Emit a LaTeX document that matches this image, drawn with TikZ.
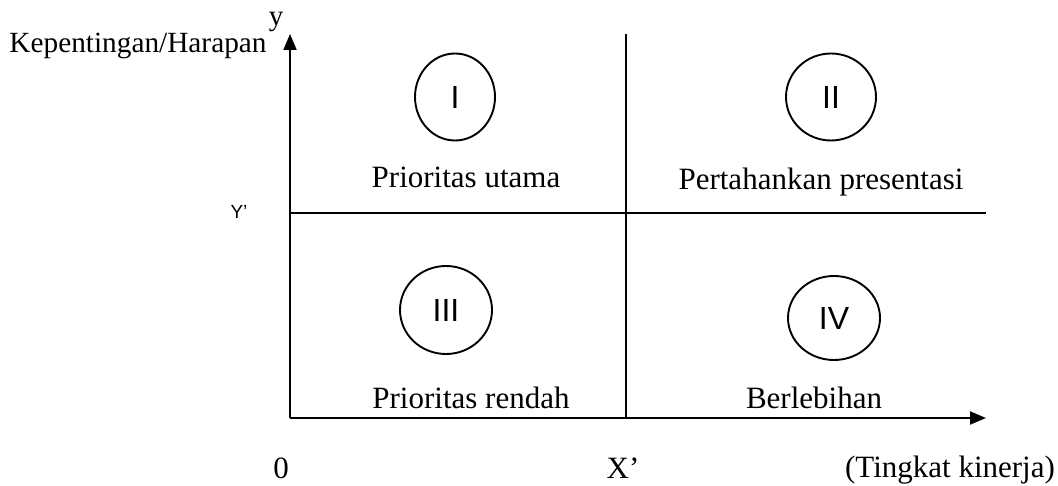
\documentclass[tikz,border=0pt]{standalone}
\usepackage{fontspec}
\setmainfont{Liberation Serif}
\newfontfamily\arialf{Liberation Sans}
\usetikzlibrary{arrows.meta,shapes.geometric}
\tikzset{
  axisline/.style={line width=2pt, -{Triangle[length=16pt,width=13pt]}},
  gridline/.style={line width=2pt},
  quad/.style={draw, ellipse, line width=1.9pt, inner sep=0pt, font=\arialf\fontsize{32}{38}\selectfont},
  lbl/.style={inner sep=0pt, anchor=base, font=\fontsize{31}{36}\selectfont},
}
\begin{document}
\begin{tikzpicture}[x=1pt,y=-1pt]
\useasboundingbox (0,0) rectangle (1058,486);
\coordinate (O) at (290,418);
\coordinate (Ytip) at (290,34);
\coordinate (Xtip) at (986,418);
\coordinate (Vtop) at (626,34);
\coordinate (Vbot) at (626,418);
\coordinate (Hl) at (290,213);
\coordinate (Hr) at (986,213);
\draw[gridline] (Vtop) -- (Vbot);
\draw[gridline] (Hl) -- (Hr);
\draw[axisline] (O) -- (Ytip);
\draw[axisline] (O) -- (Xtip);
\node[quad, minimum width=80pt, minimum height=87pt] (q1) at (455,97) {I};
\node[quad, minimum width=90pt, minimum height=87pt] (q2) at (831,97) {II};
\node[quad, minimum width=92pt, minimum height=88pt] (q3) at (446,310) {III};
\node[quad, minimum width=92pt, minimum height=84pt] (q4) at (834,318) {IV};
\node[lbl] (t1) at (466,188) {Prioritas utama};
\node[lbl] (t2) at (821,190) {Pertahankan presentasi};
\node[lbl] (t3) at (471,408) {Prioritas rendah};
\node[lbl] (t4) at (814,408) {Berlebihan};
\node[lbl] (zero) at (281,478) {0};
\node[lbl] (xp) at (623,478) {X’};
\node[lbl] (tk) at (950,477) {(Tingkat kinerja)};
\node[lbl, font=\fontsize{29.3}{34}\selectfont] (kh) at (138,53) {Kepentingan/Harapan};
\node[lbl, font=\fontsize{29}{34}\selectfont] (yl) at (276,26) {y};
\node[inner sep=0pt, anchor=base, font=\arialf\fontsize{19}{22}\selectfont] (yp) at (239,219) {Y’};
\end{tikzpicture}
\end{document}
